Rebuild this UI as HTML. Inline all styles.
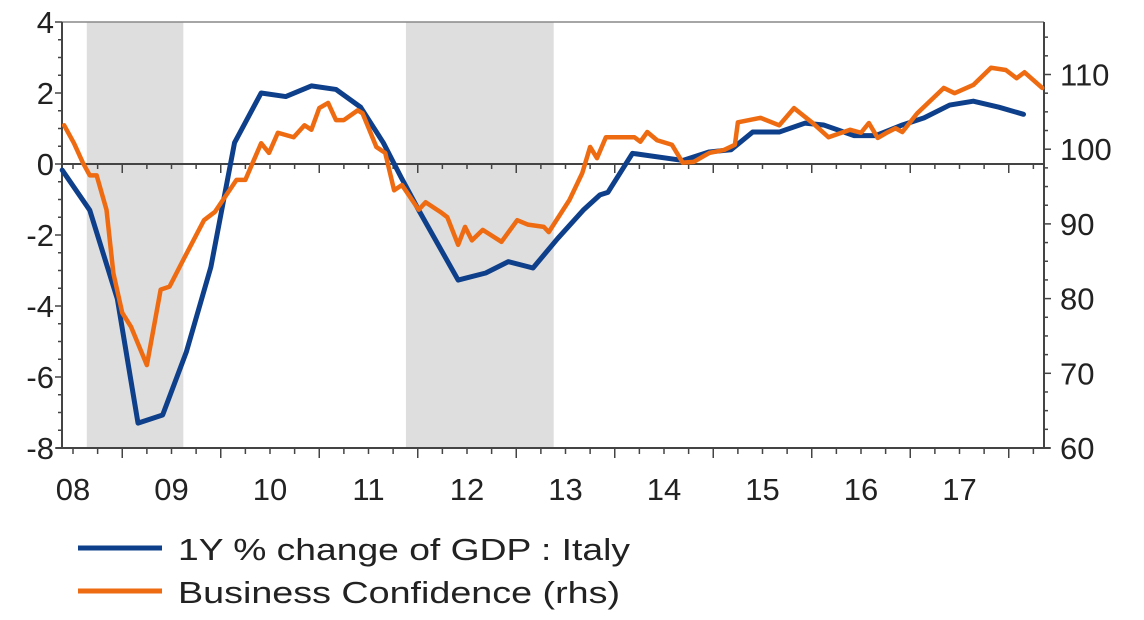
<!DOCTYPE html>
<html><head><meta charset="utf-8"><style>
body{margin:0;background:#fff;}
svg{display:block;font-family:"Liberation Sans",Arial,sans-serif;}
</style></head><body>
<svg id="chart" width="1144" height="620" viewBox="0 0 1144 620">
<g id="shade"></g>
<g id="axes"></g>
<g id="series"></g>
<g>
 <line x1="78" y1="548" x2="162" y2="548" stroke="#0e3f8a" stroke-width="5"/>
 <text x="178" y="560" font-size="31" textLength="452" lengthAdjust="spacingAndGlyphs" fill="#222">1Y % change of GDP : Italy</text>
 <line x1="78" y1="591" x2="162" y2="591" stroke="#ee6b12" stroke-width="5"/>
 <text x="178" y="603" font-size="31" textLength="442" lengthAdjust="spacingAndGlyphs" fill="#222">Business Confidence (rhs)</text>
</g>
</svg>
<script>
const yearLabels = ["08","09","10","11","12","13","14","15","16","17"];
const leftTicks = [4,2,0,-2,-4,-6,-8];
const rightTicks = [110,100,90,80,70,60];
const shadeStart = [2008.64, 2011.88];
const shadeEnd = [2009.62, 2013.38];
const gdpT = [2008.39,2008.67,2008.95,2009.16,2009.41,2009.65,2009.90,2010.14,2010.41,2010.66,2010.92,2011.17,2011.42,2011.65,2011.83,2012.01,2012.41,2012.69,2012.92,2013.17,2013.42,2013.68,2013.85,2013.93,2014.18,2014.69,2014.96,2015.18,2015.40,2015.67,2015.93,2016.12,2016.43,2016.65,2016.92,2017.14,2017.40,2017.64,2017.90,2018.15];
const gdpV = [-0.17,-1.3,-3.8,-7.3,-7.07,-5.3,-2.9,0.6,2.0,1.9,2.2,2.1,1.6,0.6,-0.37,-1.3,-3.27,-3.07,-2.75,-2.93,-2.1,-1.3,-0.87,-0.8,0.3,0.1,0.34,0.4,0.9,0.9,1.15,1.1,0.8,0.8,1.1,1.3,1.66,1.77,1.6,1.4];
const bcT = [2008.41,2008.51,2008.60,2008.67,2008.74,2008.84,2008.91,2009.00,2009.09,2009.25,2009.39,2009.48,2009.62,2009.83,2009.94,2010.16,2010.25,2010.41,2010.49,2010.58,2010.74,2010.85,2010.92,2011.00,2011.09,2011.17,2011.25,2011.39,2011.44,2011.58,2011.67,2011.76,2011.84,2012.01,2012.08,2012.23,2012.30,2012.41,2012.48,2012.55,2012.66,2012.85,2013.01,2013.12,2013.28,2013.33,2013.54,2013.67,2013.75,2013.82,2013.91,2014.20,2014.26,2014.33,2014.43,2014.58,2014.69,2014.80,2014.96,2015.11,2015.22,2015.25,2015.48,2015.67,2015.82,2016.01,2016.17,2016.39,2016.50,2016.58,2016.67,2016.76,2016.85,2016.92,2017.07,2017.34,2017.45,2017.64,2017.82,2017.97,2018.08,2018.16,2018.34];
const bcV = [103.2,100.8,98.2,96.5,96.5,91.9,83.4,78.1,76.2,71.1,81.2,81.6,85.2,90.5,91.6,95.9,95.9,100.8,99.5,102.2,101.6,103.2,102.6,105.5,106.2,103.9,103.9,105.2,104.8,100.3,99.5,94.5,95.2,91.9,92.9,91.6,90.9,87.2,89.6,87.8,89.2,87.6,90.5,89.9,89.6,88.9,93.2,96.8,100.3,98.8,101.6,101.6,101.0,102.3,101.2,100.6,98.2,98.3,99.5,99.9,100.6,103.6,104.2,103.2,105.5,103.5,101.6,102.6,102.2,103.5,101.5,102.2,102.8,102.3,104.8,108.2,107.5,108.6,110.9,110.6,109.5,110.3,108.2];

const NS="http://www.w3.org/2000/svg";
const L=62,R=1044,T=22,B=448;
const x = t => 23.75 + (t-2008)*98.5;
const yL = v => 164 - v*35.5;
const yR = v => 448 - (v-60)*7.47;
function mk(tag, parent, attrs){const e=document.createElementNS(NS,tag);for(const k in attrs)e.setAttribute(k,attrs[k]);document.getElementById(parent).appendChild(e);return e;}

for(let i=0;i<shadeStart.length;i++){
 const r=mk('rect','shade',{x:x(shadeStart[i]),y:T,width:x(shadeEnd[i])-x(shadeStart[i]),height:B-T,fill:'#dedede'});
 
 
}
let e=mk('line','axes',{x1:L,y1:T,x2:R,y2:T,stroke:'#888','stroke-width':1.5});


e=mk('line','axes',{x1:L,y1:T,x2:L,y2:B,stroke:'#444','stroke-width':2});


e=mk('line','axes',{x1:R,y1:T,x2:R,y2:B,stroke:'#444','stroke-width':2});


e=mk('line','axes',{x1:L-6,y1:B,x2:R+6,y2:B,stroke:'#444','stroke-width':2});


e=mk('line','axes',{x1:L,y1:yL(0),x2:R,y2:yL(0),stroke:'#444','stroke-width':2});


for(let v=-8;v<=4.001;v+=0.5){
 const t=mk('line','axes',{x1:L-(v%2===0?7:4),y1:yL(v),x2:L,y2:yL(v),stroke:'#444','stroke-width':1.5});
 
 
}
for(let v=60;v<=117;v+=2.5){
 const t=mk('line','axes',{x1:R,y1:yR(v),x2:R+(v%10===0?7:4),y2:yR(v),stroke:'#444','stroke-width':1.5});
 
 
}
for(let q=2008.5;q<=2018.3;q+=0.25){
 const X=x(q); if(X<L||X>R) continue;
 const major=Math.abs(q-Math.round(q))<0.01;
 const t1=mk('line','axes',{x1:X,y1:yL(0),x2:X,y2:yL(0)+(major?9:5),stroke:'#444','stroke-width':1.5});
 
 
 const t2=mk('line','axes',{x1:X,y1:B,x2:X,y2:B+(major?10:6),stroke:'#444','stroke-width':1.5});
 
 
}
leftTicks.forEach(v=>{
 const t=mk('text','axes',{x:54,y:yL(v)+11,'text-anchor':'end','font-size':31,fill:'#222'});
 t.textContent=v;
 
 
});
rightTicks.forEach(v=>{
 const t=mk('text','axes',{x:1060,y:yR(v)+11,'font-size':31,fill:'#222'});
 t.textContent=v;
 
 
});
yearLabels.forEach((s,i)=>{
 const t=mk('text','axes',{x:x(2008+i+0.5),y:500,'text-anchor':'middle','font-size':31,fill:'#222'});
 t.textContent=s;
 
 
});
const gp=mk('polyline','series',{points:gdpT.map((t,i)=>x(t)+','+yL(gdpV[i])).join(' '),fill:'none',stroke:'#0e3f8a','stroke-width':5,'stroke-linejoin':'round','stroke-linecap':'round'});


const bp=mk('polyline','series',{points:bcT.map((t,i)=>x(t)+','+yR(bcV[i])).join(' '),fill:'none',stroke:'#ee6b12','stroke-width':4.5,'stroke-linejoin':'round','stroke-linecap':'round'});


</script>
</body></html>
